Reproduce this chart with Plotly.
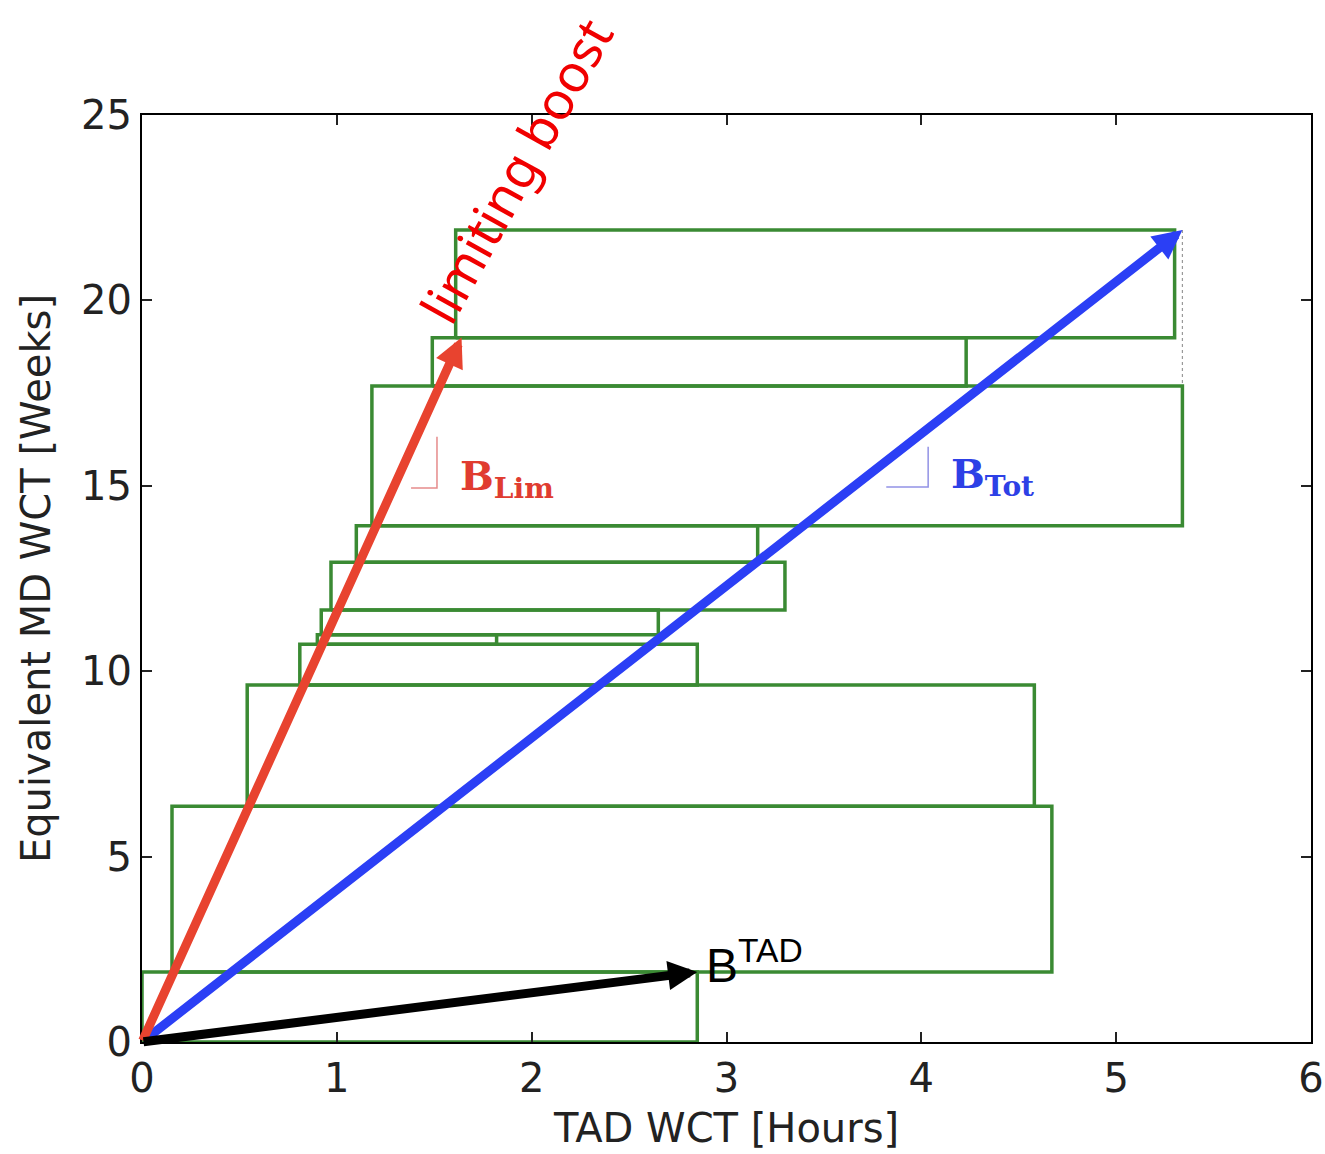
import plotly.graph_objects as go

# Work-unit boxes: TAD wall-clock time (hours) vs equivalent MD wall-clock time (weeks)
box_x0 = [0.00, 0.154, 0.54, 0.81, 0.90, 0.92, 0.97, 1.10, 1.18, 1.49, 1.61]
box_x1 = [2.85, 4.67, 4.58, 2.85, 1.82, 2.65, 3.30, 3.16, 5.34, 4.23, 5.30]
box_y0 = [0.00, 1.89, 6.36, 9.63, 10.73, 10.98, 11.65, 12.94, 13.92, 17.69, 18.99]
box_y1 = [1.89, 6.36, 9.63, 10.73, 10.98, 11.65, 12.94, 13.92, 17.69, 18.99, 21.90]

# Boost vectors (end points, all starting at the origin)
lim_end = (1.64, 19.00)
tot_end = (5.34, 21.90)
tad_end = (2.85, 1.89)

x_ticks = [0, 1, 2, 3, 4, 5, 6]
y_ticks = [0, 5, 10, 15, 20, 25]

GREEN = "#3a8a33"
RED = "#e8432f"
BLUE = "#2b3ff5"

fig = go.Figure()

for x0, x1, y0, y1 in zip(box_x0, box_x1, box_y0, box_y1):
    fig.add_trace(go.Scatter(
        x=[x0, x1, x1, x0, x0], y=[y0, y0, y1, y1, y0],
        mode="lines", line=dict(color=GREEN, width=3.5),
        hoverinfo="skip", showlegend=False))

# dotted guide at the right edge of the widest box
fig.add_trace(go.Scatter(
    x=[box_x1[8], box_x1[8]], y=[box_y1[10], box_y1[8]],
    mode="lines", line=dict(color="#999999", width=1.2, dash="dot"),
    hoverinfo="skip", showlegend=False))

# slope markers next to the boost labels
fig.add_trace(go.Scatter(
    x=[1.514, 1.514, 1.381], y=[16.32, 14.94, 14.94], mode="lines",
    line=dict(color="rgba(220,100,100,0.75)", width=1.5),
    hoverinfo="skip", showlegend=False))
fig.add_trace(go.Scatter(
    x=[4.035, 4.035, 3.82], y=[16.05, 14.97, 14.97], mode="lines",
    line=dict(color="rgba(110,110,220,0.75)", width=1.5),
    hoverinfo="skip", showlegend=False))

def arrow(end, color):
    fig.add_annotation(
        x=end[0], y=end[1], ax=0, ay=0, xref="x", yref="y", axref="x", ayref="y",
        text="", showarrow=True, arrowhead=2, arrowsize=0.65, arrowwidth=9,
        arrowcolor=color)

arrow(tot_end, BLUE)
arrow(lim_end, RED)
arrow(tad_end, "black")

fig.add_annotation(
    x=1.915, y=23.5, xref="x", yref="y", text="limiting boost", showarrow=False,
    textangle=-61, font=dict(family="Noto Sans", size=52, color="#f00000"))

fig.add_annotation(
    x=1.62, y=15.2, xref="x", yref="y", xanchor="left", text="<b>B<sub>Lim</sub></b>",
    showarrow=False, font=dict(family="DejaVu Serif", size=40, color="#e03c30"))
fig.add_annotation(
    x=4.14, y=15.25, xref="x", yref="y", xanchor="left", text="<b>B<sub>Tot</sub></b>",
    showarrow=False, font=dict(family="DejaVu Serif", size=40, color="#2d40e6"))
fig.add_annotation(
    x=2.885, y=2.15, xref="x", yref="y", xanchor="left", text="B<sup>TAD</sup>",
    showarrow=False, font=dict(family="Liberation Sans", size=48, color="black"))

axis_common = dict(
    showline=True, linecolor="black", linewidth=2, mirror="allticks",
    ticks="inside", ticklen=10, tickwidth=1.5, tickcolor="#222",
    showgrid=False, zeroline=False, automargin=False,
    tickfont=dict(family="DejaVu Sans", size=40, color="#222"),
)

fig.update_xaxes(range=[0, 6], tickvals=x_ticks,
                 title=dict(text="TAD WCT [Hours]", standoff=14,
                            font=dict(family="DejaVu Sans", size=40, color="#222")),
                 **axis_common)
fig.update_yaxes(range=[0, 25], tickvals=y_ticks,
                 title=dict(text="Equivalent MD WCT [Weeks]", standoff=18,
                            font=dict(family="DejaVu Sans", size=40, color="#222")),
                 **axis_common)

fig.update_layout(
    width=1325, height=1154,
    margin=dict(l=142, r=14, t=115, b=112),
    plot_bgcolor="white", paper_bgcolor="white",
    showlegend=False,
)

fig.write_html("out.html")
